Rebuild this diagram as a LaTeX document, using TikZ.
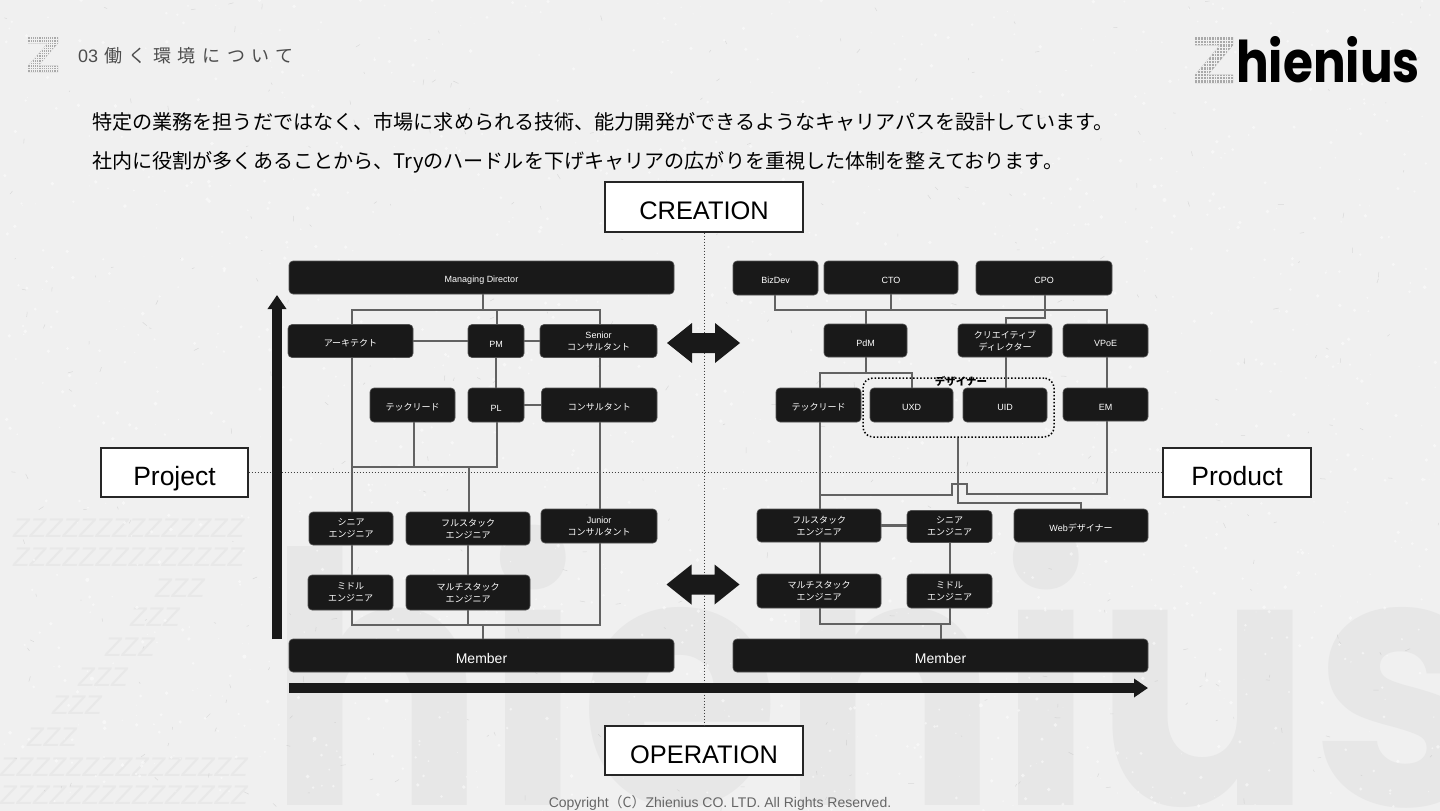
\documentclass[tikz,border=0pt]{standalone}
\usepackage{fontspec}
\usepackage{graphicx}
\usepackage{xcolor}
\usepackage{tikz}
\usetikzlibrary{arrows.meta, positioning, calc}
\setmainfont{Liberation Sans}
\newfontfamily\jp{Noto Sans CJK JP}
\newfontfamily\logofont{Poppins}
\definecolor{PaperGrey}{HTML}{F0F0F0}
\definecolor{MarkGrey}{HTML}{E7E7E7}
\definecolor{ZRowGrey}{HTML}{E8E8E8}
\definecolor{BoxBlack}{HTML}{191919}
\definecolor{WireGrey}{HTML}{626262}
\definecolor{ZGrey}{HTML}{A9A9A9}
\tikzset{
  rolebox/.style={draw=BoxBlack!75, line width=0.6pt, fill=BoxBlack, rounded corners=4pt, text=white, align=center, inner sep=0pt,
    font=\fontsize{9}{12}\selectfont, execute at begin node={\rule{0pt}{12pt}}},
  jpbox/.style={rolebox, font=\jp\fontsize{9}{12}\selectfont},
  twoline/.style={execute at begin node={\rule{0pt}{15pt}}},
  memberbox/.style={rolebox, font=\fontsize{14}{16}\selectfont, execute at begin node={\rule{0pt}{15.5pt}}},
  boxsize/.style 2 args={minimum width=#1, minimum height=#2},
  axisbox/.style={draw=black!85, line width=1.4pt, fill=white, inner sep=0pt, text height=25pt, text depth=0pt,
    font=\fontsize{26.5}{28}\selectfont},
  axiswide/.style={axisbox, font=\fontsize{25.4}{28}\selectfont},
  axisline/.style={draw=black!75, line width=1pt, dotted},
  wire/.style={draw=WireGrey, line width=2.3pt, line join=miter},
  bigarrow/.style={draw=BoxBlack, line width=9.5pt, -{Triangle[length=14pt,width=18pt]}},
  swapmark/.pic={
    \fill[BoxBlack] (-36.5,0) -- (-11.5,-20) -- (-11.5,-10) -- (11.5,-10) -- (11.5,-20) -- (36.5,0)
      -- (11.5,20) -- (11.5,10) -- (-11.5,10) -- (-11.5,20) -- cycle;
  },
  zmark/.pic={
    \path[fill=ZGrey] (0,0) -- (1,0) -- (1,.18) -- (.35,.82) -- (1,.82) -- (1,1) -- (0,1) -- (0,.82) -- (.65,.18) -- (0,.18) -- cycle;
    \begin{scope}
      \clip (0,0) -- (1,0) -- (1,.18) -- (.35,.82) -- (1,.82) -- (1,1) -- (0,1) -- (0,.82) -- (.65,.18) -- (0,.18) -- cycle;
      \foreach \g in {1,...,13} {
        \draw[PaperGrey, line width=.5pt] (\g/14,0) -- (\g/14,1);
        \draw[PaperGrey, line width=.5pt] (0,\g/14) -- (1,\g/14);
      }
    \end{scope}
  },
}

\begin{document}
\begin{tikzpicture}[x=1pt, y=-1pt]
  \useasboundingbox (0,0) rectangle (1440,811);
  \fill[PaperGrey] (0,0) rectangle (1440,811);

  % watermark
  \node[anchor=base west, inner sep=0pt, text=MarkGrey, font=\logofont\bfseries\fontsize{350}{350}\selectfont] (bigword) at (267,805) {\scalebox{0.925}[1]{hienius}};
  \foreach \zy/\zx/\zs in {528/13/ZZZZZZZZZZZZZZ, 557/13/ZZZZZZZZZZZZZZ, 588/155/ZZZ, 617/130/ZZZ, 647/105/ZZZ, 677/78/ZZZ, 705/52/ZZZ, 737/27/ZZZ, 767/0/ZZZZZZZZZZZZZZZ, 795/0/ZZZZZZZZZZZZZZZ} {
    \node[anchor=west, inner sep=0pt, text=ZRowGrey, font=\itshape\fontsize{27}{27}\selectfont] (zrow\zy) at (\zx,\zy) {\zs};
  }

  % paper grain
  \pgfmathsetseed{4711}
  \foreach \i in {1,...,1500} {
    \pgfmathsetmacro\px{rnd*1440}
    \pgfmathsetmacro\py{rnd*811}
    \pgfmathsetmacro\pr{0.4+rnd*1.6}
    \fill[white, opacity=0.5] (\px,\py) circle (\pr);
  }
  \foreach \i in {1,...,350} {
    \pgfmathsetmacro\px{rnd*1440}
    \pgfmathsetmacro\py{rnd*811}
    \pgfmathsetmacro\pa{rnd*180}
    \draw[black!35, opacity=0.3, line width=0.5pt] (\px,\py) -- ++(\pa:1+rnd*5);
  }

  % header
  \begin{scope}[shift={(28,37)}, x=30pt, y=-35pt]
    \pic {zmark};
  \end{scope}
  \node[anchor=west, inner sep=0pt, text=black!70, font=\fontsize{18}{20}\selectfont] (headnum) at (78,56) {03};
  \node[anchor=west, inner sep=0pt, text=black!70, font=\jp\fontsize{18}{20}\selectfont\addfontfeature{LetterSpace=36.5}] (headtext) at (104,56) {働く環境について};
  \begin{scope}[shift={(1195,37)}, x=38pt, y=-46pt]
    \pic {zmark};
  \end{scope}
  \node[anchor=base west, inner sep=0pt, text=black, font=\logofont\bfseries\fontsize{48.5}{50}\selectfont] (logoword) at (1236,82) {\scalebox{1}[1.185]{hienius}};

  % lead text
  \node[anchor=west, inner sep=0pt, text=black, font=\jp\fontsize{20.1}{22}\selectfont] (leadone) at (92,122) {特定の業務を担うだではなく、市場に求められる技術、能力開発ができるようなキャリアパスを設計しています。};
  \node[anchor=west, inner sep=0pt, text=black, font=\jp\fontsize{20.1}{22}\selectfont] (leadtwo) at (92,162.5) {社内に役割が多くあることから、Tryのハードルを下げキャリアの広がりを重視した体制を整えております。};

  % axes
  \node[axiswide, boxsize={198}{50}] (creation) at (704,207) {CREATION};
  \node[axiswide, boxsize={198}{49}] (operation) at (704,750.5) {OPERATION};
  \node[axisbox, boxsize={147}{49}] (project) at (174.5,472.5) {Project};
  \node[axisbox, boxsize={148}{49}] (product) at (1237,472.5) {Product};
  \draw[axisline] (project) -- (product);
  \draw[axisline] (creation) -- (operation);

  % project side
  \node[rolebox, boxsize={385}{33}] (directorL) at (481.5,277.5) {Managing Director};
  \node[jpbox, boxsize={125}{33}] (architect) at (350.5,341) {アーキテクト};
  \node[rolebox, boxsize={56}{33}] (pm) at (496,341) {PM};
  \node[rolebox, twoline, boxsize={117}{33}] (seniorcons) at (598.5,341) {Senior\\{\jp コンサルタント}};
  \node[jpbox, boxsize={85}{34}] (techleadL) at (412.5,405) {テックリード};
  \node[rolebox, boxsize={56}{34}] (pl) at (496,405) {PL};
  \node[jpbox, boxsize={115.5}{34}] (cons) at (599.25,405) {コンサルタント};
  \node[jpbox, twoline, boxsize={84}{33}] (seniorL) at (351,528.5) {シニア\\エンジニア};
  \node[jpbox, twoline, boxsize={124}{33}] (fullL) at (468,528.5) {フルスタック\\エンジニア};
  \node[rolebox, twoline, boxsize={116}{34}] (juniorcons) at (599,526) {Junior\\{\jp コンサルタント}};
  \node[jpbox, twoline, boxsize={85}{35}] (middleL) at (350.5,592.5) {ミドル\\エンジニア};
  \node[jpbox, twoline, boxsize={124}{35}] (multiL) at (468,592.5) {マルチスタック\\エンジニア};
  \node[memberbox, boxsize={385}{33}] (memberL) at (481.5,655.5) {Member};

  \coordinate (ltopA) at (352,310);
  \coordinate (ltopB) at (483,310);
  \coordinate (ltopC) at (497,310);
  \coordinate (ltopD) at (600,310);
  \coordinate (lmidA) at (352,467);
  \coordinate (lmidB) at (414,467);
  \coordinate (lmidC) at (469,467);
  \coordinate (lmidD) at (497,467);
  \coordinate (llowA) at (352,625);
  \coordinate (llowB) at (468,625);
  \coordinate (llowC) at (483,625);
  \coordinate (llowD) at (600,625);
  \draw[wire] (ltopB |- directorL.south) -- (ltopB);
  \draw[wire] (ltopA |- architect.north) -- (ltopA) -- (ltopD) -- (ltopD |- seniorcons.north);
  \draw[wire] (ltopC) -- (ltopC |- pm.north);
  \draw[wire] (architect.east) -- (pm.west);
  \draw[wire] (pm.east) -- (seniorcons.west);
  \draw[wire] (pm.south) -- (pl.north);
  \draw[wire] (pl.east) -- (pl.east -| cons.west);
  \draw[wire] (ltopD |- seniorcons.south) -- (ltopD |- cons.north);
  \draw[wire] (ltopA |- architect.south) -- (ltopA |- seniorL.north);
  \draw[wire] (lmidA) -- (lmidD) -- (lmidD |- pl.south);
  \draw[wire] (lmidB) -- (lmidB |- techleadL.south);
  \draw[wire] (lmidC) -- (lmidC |- fullL.north);
  \draw[wire] (ltopD |- cons.south) -- (ltopD |- juniorcons.north);
  \draw[wire] (ltopA |- seniorL.south) -- (ltopA |- middleL.north);
  \draw[wire] (llowB |- fullL.south) -- (llowB |- multiL.north);
  \draw[wire] (ltopA |- middleL.south) -- (llowA) -- (llowD) -- (ltopD |- juniorcons.south);
  \draw[wire] (llowB |- multiL.south) -- (llowB);
  \draw[wire] (llowC) -- (llowC |- memberL.north);

  % product side
  \node[rolebox, boxsize={85}{34}] (bizdev) at (775.5,278) {BizDev};
  \node[rolebox, boxsize={134}{33}] (cto) at (891,277.5) {CTO};
  \node[rolebox, boxsize={136}{34}] (cpo) at (1044,278) {CPO};
  \node[rolebox, boxsize={83}{33}] (pdm) at (865.5,340.5) {PdM};
  \node[jpbox, twoline, boxsize={94}{33}] (creative) at (1005,340.5) {クリエイティブ\\ディレクター};
  \node[rolebox, boxsize={85}{33}] (vpoe) at (1105.5,340.5) {VPoE};
  \node[jpbox, boxsize={85}{34}] (techleadR) at (818.5,405) {テックリード};
  \node[rolebox, boxsize={83}{34}] (uxd) at (911.5,405) {UXD};
  \node[rolebox, boxsize={84}{34}] (uid) at (1005,405) {UID};
  \node[rolebox, boxsize={85}{33}] (em) at (1105.5,404.5) {EM};
  \node[draw=black, line width=1.5pt, dotted, rounded corners=10pt, inner sep=0pt, boxsize={191}{59}] (designers) at (958.5,407.5) {};
  \node[inner sep=0pt, text=black, font=\jp\bfseries\fontsize{10.5}{12}\selectfont] (designerlabel) at (961,381) {デザイナー};
  \node[jpbox, twoline, boxsize={124}{33}] (fullR) at (819,525.5) {フルスタック\\エンジニア};
  \node[jpbox, twoline, boxsize={85}{32}] (seniorR) at (949.5,526.5) {シニア\\エンジニア};
  \node[rolebox, boxsize={134}{33}] (webdesign) at (1081,525.5) {Web{\jp デザイナー}};
  \node[jpbox, twoline, boxsize={124}{34}] (multiR) at (819,591) {マルチスタック\\エンジニア};
  \node[jpbox, twoline, boxsize={85}{34}] (middleR) at (949.5,591) {ミドル\\エンジニア};
  \node[memberbox, boxsize={415}{33}] (memberR) at (940.5,655.5) {Member};

  \coordinate (rtopA) at (775,310);
  \coordinate (rtopB) at (866,310);
  \coordinate (rtopC) at (891,310);
  \coordinate (rtopD) at (1045,310);
  \coordinate (rtopE) at (1107,310);
  \coordinate (rcpoA) at (1045,318);
  \coordinate (rcpoB) at (1006,318);
  \coordinate (rpdmA) at (866,373);
  \coordinate (rpdmB) at (820,373);
  \coordinate (rpdmC) at (912,373);
  \coordinate (rjoinA) at (820,495);
  \coordinate (rbridgeA) at (952,495);
  \coordinate (rbridgeB) at (952,484);
  \coordinate (rbridgeC) at (967,484);
  \coordinate (rbridgeD) at (967,494);
  \coordinate (remA) at (1107,494);
  \coordinate (rwebA) at (958,503);
  \coordinate (rwebB) at (1081,503);
  \coordinate (rlowA) at (820,624);
  \coordinate (rlowB) at (941,624);
  \coordinate (rlowC) at (950,624);
  \draw[wire] (rtopA |- bizdev.south) -- (rtopA) -- (rtopE) -- (rtopE |- vpoe.north);
  \draw[wire] (rtopB) -- (rtopB |- pdm.north);
  \draw[wire] (rtopC |- cto.south) -- (rtopC);
  \draw[wire] (rcpoA |- cpo.south) -- (rcpoA) -- (rcpoB) -- (rcpoB |- creative.north);
  \draw[wire] (rcpoB |- creative.south) -- (rcpoB |- uid.north);
  \draw[wire] (rtopE |- vpoe.south) -- (rtopE |- em.north);
  \draw[wire] (rpdmA |- pdm.south) -- (rpdmA);
  \draw[wire] (rpdmB |- techleadR.north) -- (rpdmB) -- (rpdmC) -- (rpdmC |- uxd.north);
  \draw[wire] (rjoinA |- techleadR.south) -- (rjoinA |- fullR.north);
  \draw[wire] (rjoinA) -- (rbridgeA) -- (rbridgeB) -- (rbridgeC) -- (rbridgeD) -- (remA) -- (remA |- em.south);
  \draw[wire] (rwebA |- designers.south) -- (rwebA) -- (rwebB) -- (rwebB |- webdesign.north);
  \draw[wire] (fullR.east) -- (fullR.east -| seniorR.west);
  \draw[wire] (rjoinA |- fullR.south) -- (rjoinA |- multiR.north);
  \draw[wire] (rlowC |- seniorR.south) -- (rlowC |- middleR.north);
  \draw[wire] (rjoinA |- multiR.south) -- (rlowA) -- (rlowC) -- (rlowC |- middleR.south);
  \draw[wire] (rlowB) -- (rlowB |- memberR.north);

  % big arrows
  \pic (swaptop) at (703.5,343) {swapmark};
  \pic (swaplow) at (703,584.5) {swapmark};
  \coordinate (levelfrom) at (277,639);
  \coordinate (levelto) at (277,295);
  \coordinate (trackfrom) at (289,688);
  \coordinate (trackto) at (1148,688);
  \draw[bigarrow] (levelfrom) -- (levelto);
  \draw[bigarrow] (trackfrom) -- (trackto);

  \node[inner sep=0pt, text=black!60, font=\fontsize{14}{16}\selectfont] (copyright) at (720,803) {Copyright{\jp （C）}Zhienius CO. LTD. All Rights Reserved.};
\end{tikzpicture}
\end{document}
